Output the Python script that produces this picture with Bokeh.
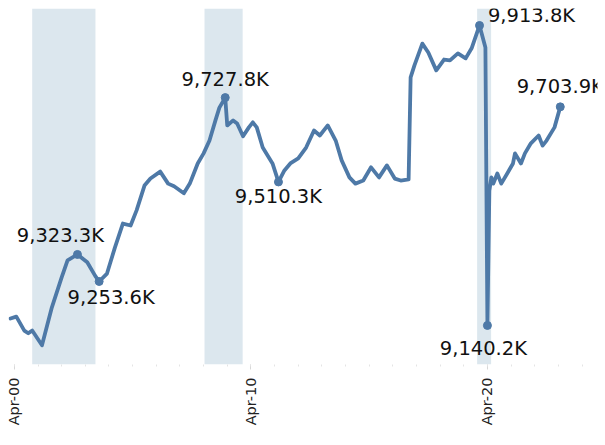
import math
import pandas as pd
from bokeh.plotting import figure
from bokeh.models import ColumnDataSource, BoxAnnotation, FixedTicker, Range1d, LabelSet
from bokeh.core.properties import value
from bokeh.embed import file_html
from bokeh.resources import INLINE

# ---------------- data ----------------
months = [
    "2000-02", "2000-05", "2000-09", "2000-11", "2001-01", "2001-06", "2001-11",
    "2002-04", "2002-07", "2002-12", "2003-05", "2003-09", "2003-11", "2004-03",
    "2004-07", "2004-11", "2005-03", "2005-06", "2005-10", "2006-01", "2006-06",
    "2006-10", "2007-01", "2007-06", "2007-09", "2008-01", "2008-04", "2008-07",
    "2008-10", "2008-12", "2009-03", "2009-04", "2009-07", "2009-09", "2009-12",
    "2010-03", "2010-05", "2010-07", "2010-10", "2011-03", "2011-06", "2011-09",
    "2011-12", "2012-04", "2012-08", "2012-12", "2013-03", "2013-07", "2013-11",
    "2014-02", "2014-06", "2014-09", "2015-01", "2015-05", "2015-09", "2016-01",
    "2016-05", "2016-08", "2016-12", "2017-01", "2017-03", "2017-07", "2017-10",
    "2018-02", "2018-06", "2018-09", "2019-01", "2019-05", "2019-08", "2019-12",
    "2020-03", "2020-04", "2020-05", "2020-06", "2020-07", "2020-09", "2020-11",
    "2021-02", "2021-05", "2021-06", "2021-09", "2021-11", "2022-02", "2022-06",
    "2022-08", "2022-10", "2023-02", "2023-05",
]
values = [
    9158, 9163, 9127, 9120, 9127, 9089, 9187,
    9264, 9308, 9323.3, 9303, 9268, 9253.6, 9274,
    9341, 9403, 9398, 9437, 9501, 9519, 9537,
    9506, 9499, 9481, 9506, 9558, 9584, 9617,
    9669, 9702, 9727.8, 9656, 9669, 9661, 9628,
    9651, 9664, 9651, 9599, 9558, 9510.3, 9540,
    9558, 9571, 9599, 9643, 9630, 9656, 9617,
    9566, 9522, 9506, 9514, 9548, 9522, 9553,
    9519, 9514, 9517, 9780, 9811, 9867, 9844,
    9798, 9826, 9824, 9842, 9829, 9855, 9913.8,
    9857, 9140.2, 9488, 9522, 9506, 9532, 9506,
    9532, 9558, 9584, 9558, 9584, 9610, 9630,
    9604, 9617, 9651, 9703.9,
]

# annotated points
label_months = ["2002-12", "2003-11", "2009-03", "2011-06", "2019-12", "2020-04", "2023-05"]

# shaded periods
shade_starts = ["2001-01-01", "2008-04-15", "2019-10-25"]
shade_ends = ["2003-09-05", "2009-11-25", "2020-05-28"]

# axis ticks
tick_months = ["2000-04", "2010-04", "2020-04"]
tick_labels = ["Apr-00", "Apr-10", "Apr-20"]
minor_tick_months = ["%d-04" % y for y in range(2000, 2025)]

# ---------------- helpers ----------------
EPOCH = pd.Timestamp("1970-01-01")


def to_ms(s):
    return (pd.Timestamp(s) - EPOCH) / pd.Timedelta(milliseconds=1)


LINE_COLOR = "#4e79a7"
SHADE_COLOR = "#dce7ee"

dates = [pd.Timestamp(m + "-01") for m in months]
src = ColumnDataSource(dict(date=dates, value=values))

lookup = dict(zip(months, values))
label_values = [lookup[m] for m in label_months]
label_text = ["{:,.1f}K".format(v) for v in label_values]
# pixel offsets of label centres from their points (positive dy = upwards)
label_dx = [-17, 12, 0, 0, 52, -4, 0]
label_dy = [19, -16, 18, -15, 10, -23, 20]
lab_src = ColumnDataSource(dict(
    date=[pd.Timestamp(m + "-01") for m in label_months],
    value=label_values,
    text=label_text,
    dx=label_dx,
    dy=label_dy,
))

p = figure(
    width=605, height=445,
    x_axis_type="datetime",
    x_range=Range1d(to_ms("2000-01-01"), to_ms("2024-11-26")),
    y_range=Range1d(9039.5, 9957.6),
    output_backend="svg", toolbar_location=None,
    min_border_left=8, min_border_right=8, min_border_top=8, min_border_bottom=81,
)
p.outline_line_color = None
p.xgrid.visible = False
p.ygrid.visible = False
p.yaxis.visible = False
p.background_fill_color = "white"
p.border_fill_color = "white"

for s, e in zip(shade_starts, shade_ends):
    p.add_layout(BoxAnnotation(left=to_ms(s), right=to_ms(e),
                               fill_color=SHADE_COLOR, fill_alpha=1.0,
                               line_color=None, level="underlay"))

p.line("date", "value", source=src, line_color=LINE_COLOR, line_width=3.8,
       line_join="round", line_cap="round")
p.scatter("date", "value", source=lab_src, size=8, color=LINE_COLOR)

labels = LabelSet(x="date", y="value", text="text", source=lab_src,
                  x_offset="dx", y_offset="dy",
                  text_align="center", text_baseline="middle",
                  text_font=value("DejaVu Sans"), text_font_size=value("19.5px"),
                  text_color=value("#111111"))
p.add_layout(labels)

ax = p.xaxis[0]
major = [to_ms(m + "-01") for m in tick_months]
ax.ticker = FixedTicker(ticks=major,
                        minor_ticks=[to_ms(m + "-01") for m in minor_tick_months])
ax.major_label_overrides = {t: l for t, l in zip(major, tick_labels)}
ax.major_label_orientation = math.pi / 2
ax.axis_line_color = None
ax.major_tick_line_color = "#d8d8d8"
ax.minor_tick_line_color = "#e4e4e4"
ax.major_tick_in = 0
ax.major_tick_out = 5
ax.minor_tick_in = 0
ax.minor_tick_out = 2
ax.major_label_standoff = 8
ax.major_label_text_font = "DejaVu Sans"
ax.major_label_text_font_size = "14.5px"
ax.major_label_text_color = "#222222"

open("out.html", "w").write(file_html(p, INLINE))
